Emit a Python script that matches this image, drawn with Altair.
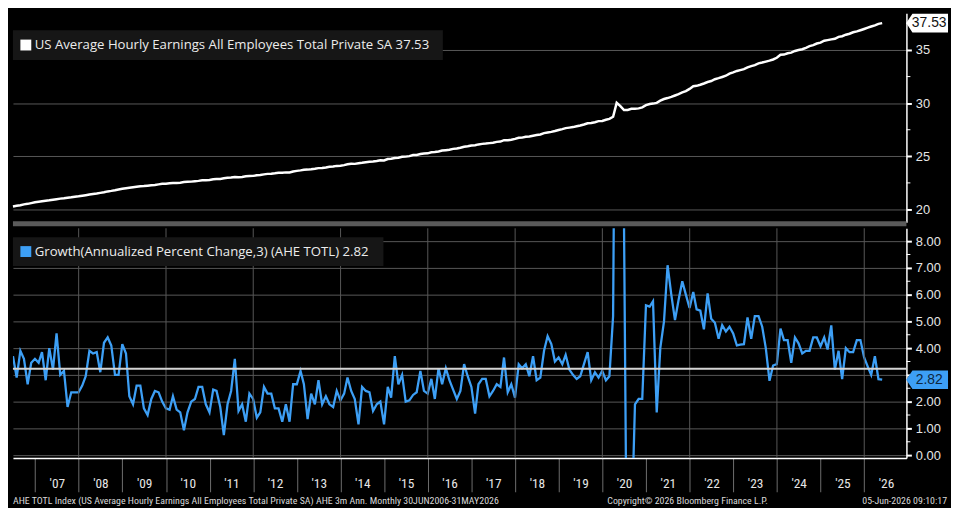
import altair as alt
import pandas as pd

# ---------------- data ----------------
start_date = "2006-06-30"   # 30JUN2006 .. 31MAY2026, monthly (month-end)

ahe = [
    20.28, 20.35, 20.40, 20.48, 20.53, 20.60, 20.68,                                   # 2006 Jun-Dec
    20.73, 20.78, 20.83, 20.87, 20.92, 20.97, 21.02, 21.06, 21.11, 21.15, 21.20, 21.24, # 2007
    21.29, 21.34, 21.40, 21.45, 21.50, 21.56, 21.62, 21.70, 21.75, 21.81, 21.88, 21.95, # 2008
    22.00, 22.05, 22.10, 22.14, 22.18, 22.20, 22.24, 22.28, 22.31, 22.36, 22.41, 22.43, # 2009
    22.46, 22.49, 22.50, 22.52, 22.58, 22.60, 22.62, 22.66, 22.69, 22.74, 22.75, 22.78, # 2010
    22.85, 22.87, 22.87, 22.93, 22.98, 23.00, 23.06, 23.03, 23.06, 23.12, 23.15, 23.16, # 2011
    23.22, 23.24, 23.30, 23.35, 23.36, 23.40, 23.45, 23.45, 23.49, 23.48, 23.57, 23.63, # 2012
    23.68, 23.74, 23.75, 23.78, 23.83, 23.89, 23.90, 23.95, 24.01, 24.04, 24.10, 24.12, # 2013
    24.17, 24.26, 24.30, 24.29, 24.35, 24.39, 24.44, 24.49, 24.51, 24.56, 24.62, 24.61, # 2014
    24.75, 24.78, 24.85, 24.87, 24.95, 24.97, 25.02, 25.12, 25.13, 25.21, 25.26, 25.28, # 2015
    25.38, 25.40, 25.46, 25.54, 25.58, 25.62, 25.70, 25.74, 25.81, 25.90, 25.94, 26.01, # 2016
    26.05, 26.12, 26.17, 26.20, 26.24, 26.28, 26.36, 26.39, 26.52, 26.51, 26.56, 26.64, # 2017
    26.74, 26.76, 26.84, 26.87, 26.94, 27.00, 27.06, 27.18, 27.24, 27.30, 27.38, 27.48, # 2018
    27.56, 27.65, 27.70, 27.75, 27.83, 27.90, 27.99, 28.11, 28.14, 28.21, 28.31, 28.33, # 2019
    28.44, 28.52, 28.72, 30.03, 29.72, 29.35, 29.36, 29.47, 29.48, 29.51, 29.61, 29.81, # 2020
    29.92, 29.96, 30.03, 30.24, 30.39, 30.48, 30.59, 30.72, 30.85, 31.01, 31.13, 31.34, # 2021
    31.60, 31.63, 31.73, 31.85, 31.99, 32.08, 32.25, 32.35, 32.46, 32.58, 32.78, 32.90, # 2022
    33.03, 33.11, 33.20, 33.36, 33.48, 33.58, 33.74, 33.82, 33.91, 34.00, 34.11, 34.27, # 2023
    34.55, 34.57, 34.69, 34.75, 34.91, 35.00, 35.07, 35.21, 35.36, 35.46, 35.61, 35.69, # 2024
    35.87, 35.93, 36.00, 36.06, 36.24, 36.30, 36.44, 36.53, 36.67, 36.75, 36.86, 36.98, # 2025
    37.10, 37.21, 37.32, 37.46, 37.53,                                                 # 2026 Jan-May
]

growth = [
    3.7, 2.9, 3.9, 3.6, 2.65, 3.45, 3.6, 3.45, 3.85, 2.8,
    4.0, 3.2, 4.55, 3.0, 3.15, 1.8, 2.35, 2.35, 2.35, 2.6,
    2.95, 3.9, 3.8, 3.85, 3.1, 4.2, 4.4, 4.1, 3.0, 3.0,
    4.15, 3.8, 2.2, 1.9, 2.6, 2.6, 1.75, 1.5, 2.1, 2.4,
    2.35, 2.0, 1.75, 1.7, 2.2, 1.7, 1.6, 0.93, 1.6, 2.0,
    2.1, 2.55, 2.55, 1.9, 1.6, 2.45, 2.4, 1.8, 0.75, 1.9,
    2.4, 3.6, 1.65, 1.9, 1.25, 2.3, 2.1, 1.4, 1.6, 2.55,
    2.3, 2.3, 1.75, 1.75, 1.25, 1.9, 1.25, 2.65, 2.65, 3.15,
    2.65, 1.35, 2.3, 1.9, 2.8, 1.9, 2.2, 1.9, 1.8, 2.4,
    2.05, 2.3, 2.9, 2.4, 2.1, 1.15, 2.55, 2.4, 2.35, 1.65,
    1.9, 2.0, 1.15, 2.55, 2.15, 3.7, 2.65, 3.0, 2.0, 2.05,
    2.25, 2.35, 3.15, 2.4, 2.3, 2.85, 2.1, 3.25, 2.65, 3.25,
    2.8, 2.45, 2.1, 2.4, 3.4, 2.95, 2.55, 1.55, 2.65, 2.85,
    2.85, 2.2, 2.4, 2.65, 2.55, 3.65, 2.35, 2.65, 2.15, 3.4,
    3.25, 3.4, 2.95, 3.7, 2.8, 2.9, 3.9, 4.45, 4.15, 3.5,
    3.65, 3.4, 3.75, 3.2, 3.0, 2.85, 2.95, 3.4, 3.85, 2.8,
    3.1, 2.9, 3.15, 2.8, 2.95, 5.2, 24.0, 17.0, 8.8, -8.5,
    -3.0, 1.9, 2.1, 2.1, 5.6, 5.55, 5.75, 1.6, 4.0, 5.0,
    7.1, 6.0, 5.05, 5.8, 6.5, 6.0, 5.5, 6.1, 5.45, 5.4,
    4.7, 6.05, 5.1, 4.95, 4.35, 4.86, 4.62, 4.8, 4.55, 4.1,
    4.13, 4.15, 5.15, 4.35, 5.2, 5.2, 4.8, 4.0, 2.78, 3.35,
    3.4, 4.73, 4.3, 4.3, 3.45, 4.4, 4.18, 3.8, 3.9, 3.9,
    4.4, 4.4, 4.07, 4.4, 3.95, 4.85, 3.2, 3.9, 2.84, 4.0,
    3.85, 3.85, 4.3, 4.3, 3.65, 3.3, 3.0, 3.7, 2.84, 2.82,
]

mean_level = [3.23]
label_years = list(range(2007, 2027))
grid_years = list(range(2008, 2027, 2))
top_major = [20, 25, 30, 35]
top_minor = [22.5, 27.5, 32.5, 37.5]
bot_major = [0, 1, 2, 3, 4, 5, 6, 7, 8]
bot_minor = [0.5, 1.5, 2.5, 3.5, 4.5, 5.5, 6.5, 7.5]

top_name = "US Average Hourly Earnings All Employees Total Private SA"
bot_name = "Growth(Annualized Percent Change,3) (AHE TOTL)"
footer_left = ("AHE TOTL Index (US Average Hourly Earnings All Employees Total Private SA) "
               "AHE 3m Ann. Monthly 30JUN2006-31MAY2026")
footer_mid = "Copyright\u00a9 2026 Bloomberg Finance L.P."
footer_right = "05-Jun-2026 09:10:17"

assert len(ahe) == 240 and len(growth) == 240

# ---------------- tables ----------------
dates = pd.date_range(start_date, periods=len(ahe), freq=pd.offsets.MonthEnd())
df = pd.DataFrame({"date": dates.strftime("%Y-%m-%d"), "ahe": ahe, "growth": growth})
last_top = pd.DataFrame({"v": [ahe[-1]], "lbl": [f"{ahe[-1]:.2f}"]})
last_bot = pd.DataFrame({"v": [growth[-1]], "lbl": [f"{growth[-1]:.2f}"]})
grid_df = pd.DataFrame({"d": [f"{y}-01-01" for y in grid_years]})
one = pd.DataFrame({"k": [0]})

# ---------------- style ----------------
W = 902
H1 = 211
H2 = 232
BLUE = "#3d9ff5"
GRID = "#585858"
AX_FONT = "Liberation Sans"
NARROW = "Liberation Sans Narrow, Arial Narrow, Roboto Condensed, Liberation Sans"
LEG_FONT = "Open Sans"

x_scale = alt.Scale(type="utc", domain=[
    alt.DateTime(year=2006, month=6, date=30, utc=True),
    alt.DateTime(year=2026, month=12, date=20, utc=True)])

box_path = "M-1,0L-0.72,-0.42L1,-0.42L1,0.42L-0.72,0.42Z"


def right_axis(values, fmt, label_expr=None):
    kw = dict(orient="right", values=values, format=fmt, title=None, grid=True,
              gridColor=GRID, gridWidth=1, domainColor="white", domainWidth=1.5,
              tickColor="white", tickSize=5, tickWidth=2, labelColor="#e6e6e6",
              labelFont=AX_FONT, labelFontSize=13, labelPadding=4,
              labelOverlap=False, labelBound=False, labelFlush=False)
    if label_expr:
        kw["labelExpr"] = label_expr
    return alt.Axis(**kw)


# ---------------- top panel ----------------
ytop = alt.Scale(domain=[18.79, 38.45], nice=False, zero=False)
ytop_axis = right_axis(top_major, "d")


def Ytop(field):
    return alt.Y(field, scale=ytop, axis=ytop_axis, title=None)


top_line = alt.Chart(df).mark_line(color="white", strokeWidth=2.5).encode(
    x=alt.X("date:T", scale=x_scale, axis=None),
    y=Ytop("ahe:Q"),
)
top_minor_ticks = alt.Chart(pd.DataFrame({"v": top_minor})).mark_rule(
    color="white", strokeWidth=1).encode(
    y=Ytop("v:Q"), x=alt.value(W), x2=alt.value(W + 4))
top_box = alt.Chart(last_top).mark_point(
    shape=box_path, size=1600, filled=True, fill="white", stroke="white", opacity=1).encode(
    y=Ytop("v:Q"), x=alt.value(W + 21))
top_box_text = alt.Chart(last_top).mark_text(
    color="#111111", font=AX_FONT, fontSize=14, align="center", baseline="middle", dx=2).encode(
    y=Ytop("v:Q"), x=alt.value(W + 21), text="lbl:N")

top_leg_box = alt.Chart(one).mark_rect(color="#161616").encode(
    x=alt.value(0), x2=alt.value(434), y=alt.value(17), y2=alt.value(47))
top_leg_sym = alt.Chart(one).mark_square(color="white", size=121, opacity=1).encode(
    x=alt.value(13), y=alt.value(32))
top_leg_txt = alt.Chart(one).mark_text(
    text=f"{top_name} {ahe[-1]:.2f}", color="#ececec", font=LEG_FONT, fontSize=13.3,
    align="left", baseline="middle").encode(x=alt.value(22), y=alt.value(32))
divider = alt.Chart(one).mark_rect(color="#5a5a5a").encode(
    x=alt.value(0), x2=alt.value(W), y=alt.value(H1 - 1), y2=alt.value(H1 + 4))

top = alt.layer(top_line, top_minor_ticks, top_box, top_box_text,
                top_leg_box, top_leg_sym, top_leg_txt, divider).properties(width=W, height=H1)

# ---------------- bottom panel ----------------
ybot = alt.Scale(domain=[-0.11, 8.48], nice=False, zero=False)
ybot_axis = right_axis(bot_major, ".2f",
                       "datum.value == 3 ? '' : format(datum.value, '.2f')")

x_axis = alt.Axis(
    values=[alt.DateTime(year=y, month=1, date=1, utc=True) for y in label_years],
    format="'%y", title=None, grid=False, domainColor="white", domainWidth=1.5,
    tickColor="#6e6e6e", tickSize=34, tickWidth=1, labelOffset=22, labelPadding=-15,
    labelColor="#e6e6e6", labelFont=NARROW, labelFontSize=13.5, labelFlush=False,
    labelOverlap=False)


def Ybot(field):
    return alt.Y(field, scale=ybot, axis=ybot_axis, title=None)


def Xbot(field):
    return alt.X(field, scale=x_scale, axis=x_axis, title=None)


bot_line = alt.Chart(df).mark_line(color=BLUE, strokeWidth=2.3, clip=True).encode(
    x=Xbot("date:T"), y=Ybot("growth:Q"))
vgrid = alt.Chart(grid_df).mark_rule(color=GRID, strokeWidth=1).encode(x=Xbot("d:T"))
mean_rule = alt.Chart(pd.DataFrame({"m": mean_level})).mark_rule(
    color="#d4d4d4", strokeWidth=1.8).encode(y=Ybot("m:Q"))
bot_minor_ticks = alt.Chart(pd.DataFrame({"v": bot_minor})).mark_rule(
    color="white", strokeWidth=1).encode(
    y=Ybot("v:Q"), x=alt.value(W), x2=alt.value(W + 4))
bot_box = alt.Chart(last_bot).mark_point(
    shape=box_path, size=1600, filled=True, fill=BLUE, stroke=BLUE, opacity=1).encode(
    y=Ybot("v:Q"), x=alt.value(W + 21))
bot_box_text = alt.Chart(last_bot).mark_text(
    color="#0e2740", font=AX_FONT, fontSize=14, align="center", baseline="middle", dx=2).encode(
    y=Ybot("v:Q"), x=alt.value(W + 21), text="lbl:N")

bot_leg_box = alt.Chart(one).mark_rect(color="#161616").encode(
    x=alt.value(0), x2=alt.value(374), y=alt.value(9), y2=alt.value(38))
bot_leg_sym = alt.Chart(one).mark_square(color=BLUE, size=121, opacity=1).encode(
    x=alt.value(13), y=alt.value(23.5))
bot_leg_txt = alt.Chart(one).mark_text(
    text=f"{bot_name} {growth[-1]:.2f}", color="#ececec", font=LEG_FONT, fontSize=13.3,
    align="left", baseline="middle").encode(x=alt.value(22), y=alt.value(23.5))

foot_kw = dict(color="#d8d8d8", font=NARROW, fontSize=10, baseline="middle")
foot1 = alt.Chart(one).mark_text(text=footer_left, align="left", **foot_kw).encode(
    x=alt.value(0), y=alt.value(H2 + 43))
foot2 = alt.Chart(one).mark_text(text=footer_mid, align="left", **foot_kw).encode(
    x=alt.value(600), y=alt.value(H2 + 43))
foot3 = alt.Chart(one).mark_text(text=footer_right, align="right", **foot_kw).encode(
    x=alt.value(943), y=alt.value(H2 + 43))

bottom = alt.layer(bot_line, vgrid, mean_rule, bot_minor_ticks, bot_box, bot_box_text,
                   bot_leg_box, bot_leg_sym, bot_leg_txt, foot1, foot2, foot3
                   ).properties(width=W, height=H2)

chart = alt.vconcat(top, bottom, spacing=1).resolve_scale(
    y="independent").properties(padding=0).configure(
    background="black", padding=0).configure_view(stroke=None)

chart.save("out.html", embed_options={"renderer": "svg", "actions": False})
